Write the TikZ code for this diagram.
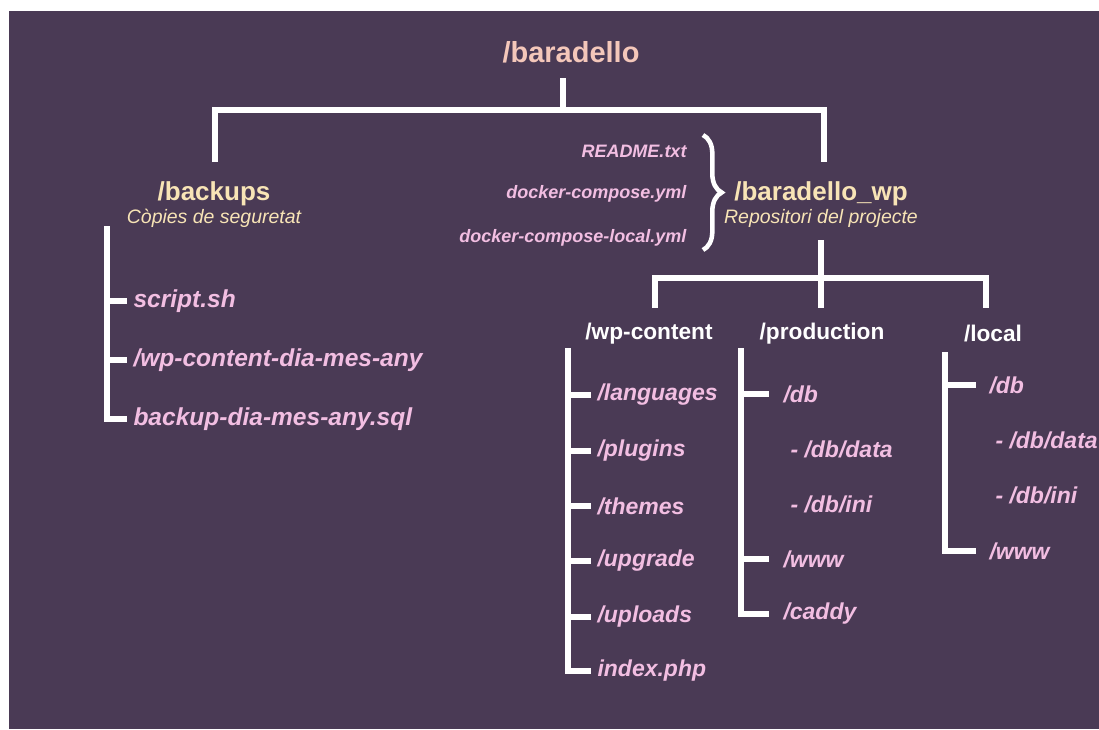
\documentclass[tikz,border=0pt]{standalone}
\usepackage{fontspec}
\setmainfont{Liberation Sans}
\usetikzlibrary{decorations.pathreplacing}

\definecolor{bgpurple}{RGB}{74,58,85}
\definecolor{salmon}{RGB}{244,199,186}
\definecolor{cream}{RGB}{248,228,182}
\definecolor{itempink}{RGB}{242,190,226}

\tikzset{every picture/.style={line width=0.75pt}}
\tikzset{
  branch/.style={draw=white, line width=4pt},
  rootlabel/.style={inner sep=0.75pt, text=salmon, font=\fontsize{21.75}{24}\selectfont\bfseries},
  dirlabel/.style={inner sep=0.75pt, text=cream, font=\fontsize{19.5}{22}\selectfont\bfseries},
  dirnote/.style={inner sep=0.75pt, text=cream, font=\fontsize{14.6}{17}\selectfont\itshape},
  sublabel/.style={inner sep=0.75pt, text=white, font=\fontsize{17}{20}\selectfont\bfseries},
  fileitem/.style={anchor=west, inner sep=0.75pt, text=itempink, font=\fontsize{17.25}{20}\selectfont\bfseries\itshape},
  bkitem/.style={anchor=west, inner sep=0.75pt, text=itempink, font=\fontsize{18.4}{21}\selectfont\bfseries\itshape},
  rootfile/.style={anchor=east, inner sep=0.75pt, text=itempink, font=\fontsize{13.5}{16}\selectfont\bfseries\itshape}
}

\begin{document}
\begin{tikzpicture}[x=0.75pt,y=0.75pt,yscale=-1,xscale=1]
	%set diagram size to 1099 x 729
	\fill[white] (0,0) rectangle (1099,729);
	\fill[bgpurple] (9,11) rectangle (1099,729);
	
	% Text Node
	\node[rootlabel] (root) at (571,52) {/baradello};
	% Text Node
	\node[dirlabel] (backups) at (214,194) {/backups};
	\node[dirnote] (backupsnote) at (214,218) {Còpies de seguretat};
	% Text Node
	\node[dirlabel] (repo) at (821,194) {/baradello\_wp};
	\node[dirnote] (reponote) at (821,218) {Repositori del projecte};
	
	% Top branch
	\coordinate (roottop) at (563,78);
	\coordinate (rootmid) at (563,110);
	\coordinate (bkend) at (215,162);
	\coordinate (repoend) at (824,162);
	\draw[branch] (roottop) -- (rootmid);
	\draw[branch] (bkend) |- (repoend |- rootmid) -- (repoend);
	
	% Root files with brace
	\node[rootfile] (readme) at (688,151) {README.txt};
	\node[rootfile] (compose) at (688,194) {docker-compose.yml};
	\node[rootfile] (composelocal) at (688,238) {docker-compose-local.yml};
	\coordinate (bracetop) at (703,135);
	\coordinate (bracebot) at (703,250);
	\draw[draw=white, line width=3.4pt, decorate, decoration={brace, amplitude=14pt}] (bracetop) -- (bracebot);
	
	% Backups folder
	\node[bkitem] (script) at (132,301) {script.sh};
	\node[bkitem] (wpcopy) at (132,360) {/wp-content-dia-mes-any};
	\node[bkitem] (sqlcopy) at (132,419) {backup-dia-mes-any.sql};
	\coordinate (bktop) at (107,226);
	\draw[branch] (bktop) -- (bktop |- sqlcopy.west) -- ([xshift=-4pt]sqlcopy.west);
	\draw[branch] ([xshift=-2pt]bktop |- script.west) -- ([xshift=-4pt]script.west);
	\draw[branch] ([xshift=-2pt]bktop |- wpcopy.west) -- ([xshift=-4pt]wpcopy.west);
	
	% Repo branch
	\coordinate (repomid) at (821,240);
	\coordinate (repojoin) at (821,278);
	\coordinate (wpcend) at (655,308);
	\coordinate (prodend) at (821,308);
	\coordinate (locend) at (986,308);
	\draw[branch] (repomid) -- (prodend);
	\draw[branch] (wpcend) |- (locend |- repojoin) -- (locend);
	
	% Text Node
	\node[sublabel] (wpcontent) at (649,334) {/wp-content};
	\node[sublabel] (production) at (822,334) {/production};
	\node[sublabel] (local) at (993,334) {/local};
	
	% wp-content folder
	\node[fileitem] (languages) at (596,395) {/languages};
	\node[fileitem] (plugins) at (596,451) {/plugins};
	\node[fileitem] (themes) at (596,506) {/themes};
	\node[fileitem] (upgrade) at (596,561) {/upgrade};
	\node[fileitem] (uploads) at (596,617) {/uploads};
	\node[fileitem] (index) at (596,671) {index.php};
	\coordinate (wpctop) at (568,348);
	\draw[branch] (wpctop) -- (wpctop |- index.west) -- ([xshift=-4pt]index.west);
	\draw[branch] (wpctop |- languages.west) -- ([xshift=-4pt]languages.west);
	\draw[branch] (wpctop |- plugins.west) -- ([xshift=-4pt]plugins.west);
	\draw[branch] (wpctop |- themes.west) -- ([xshift=-4pt]themes.west);
	\draw[branch] (wpctop |- upgrade.west) -- ([xshift=-4pt]upgrade.west);
	\draw[branch] (wpctop |- uploads.west) -- ([xshift=-4pt]uploads.west);
	
	% production folder
	\node[fileitem] (proddb) at (782,394) {/db};
	\node[fileitem] (proddata) at (789,449) {- /db/data};
	\node[fileitem] (prodini) at (789,504) {- /db/ini};
	\node[fileitem] (prodwww) at (782,559) {/www};
	\node[fileitem] (caddy) at (782,614) {/caddy};
	\coordinate (prodtop) at (741,348);
	\draw[branch] (prodtop) -- (prodtop |- caddy.west) -- ([xshift=-10pt]caddy.west);
	\draw[branch] (prodtop |- proddb.west) -- ([xshift=-10pt]proddb.west);
	\draw[branch] (prodtop |- prodwww.west) -- ([xshift=-10pt]prodwww.west);
	
	% local folder
	\node[fileitem] (locdb) at (988,385) {/db};
	\node[fileitem] (locdata) at (994,440) {- /db/data};
	\node[fileitem] (locini) at (994,495) {- /db/ini};
	\node[fileitem] (locwww) at (988,551) {/www};
	\coordinate (loctop) at (945,352);
	\draw[branch] (loctop) -- (loctop |- locwww.west) -- ([xshift=-9pt]locwww.west);
	\draw[branch] (loctop |- locdb.west) -- ([xshift=-9pt]locdb.west);
	
\end{tikzpicture}
\end{document}
